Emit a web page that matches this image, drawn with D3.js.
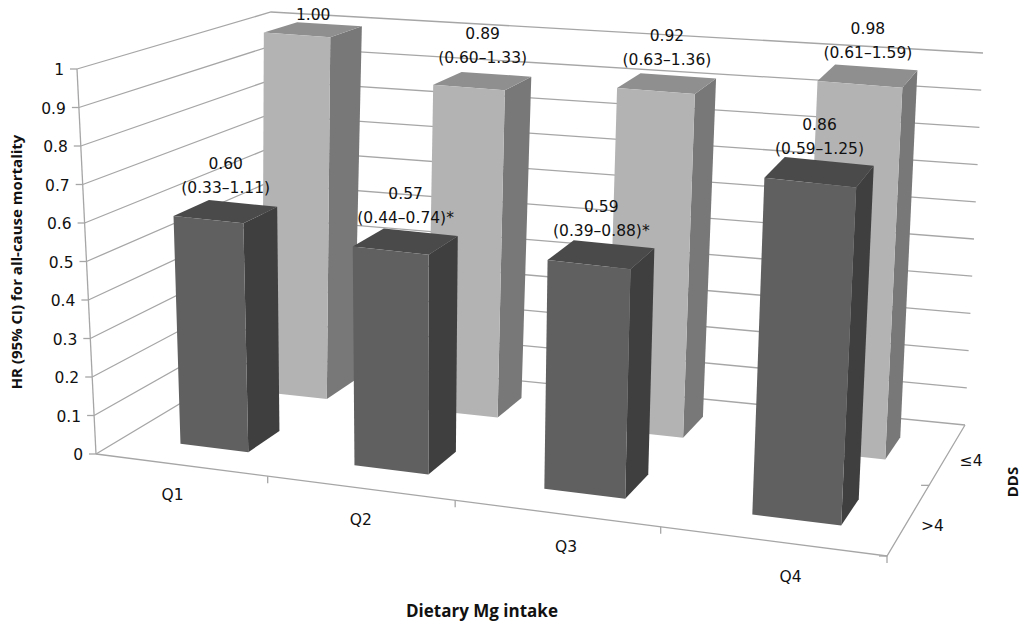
<!DOCTYPE html>
<html>
<head>
<meta charset="utf-8">
<script src="https://cdn.jsdelivr.net/npm/d3@7"></script>
<style>
  body { margin: 0; background: #fff; }
  text { font-family: "DejaVu Sans", sans-serif; fill: #111; }
  .ttl { font-family: "Open Sans", sans-serif; font-weight: bold; }
</style>
</head>
<body>
<svg id="chart" width="1024" height="627"></svg>
<script>
var quartiles = ["Q1", "Q2", "Q3", "Q4"];
var ddsRows = [">4", "\u22644"];
var hrHigh = [0.60, 0.57, 0.59, 0.86];   // DDS >4 (front row)
var hrLow = [1.00, 0.89, 0.92, 0.98];    // DDS <=4 (back row)
var ciHigh = ["(0.33\u20131.11)", "(0.44\u20130.74)*", "(0.39\u20130.88)*", "(0.59\u20131.25)"];
var ciLow = ["", "(0.60\u20131.33)", "(0.63\u20131.36)", "(0.61\u20131.59)"];
var valueTicks = [0, 0.1, 0.2, 0.3, 0.4, 0.5, 0.6, 0.7, 0.8, 0.9, 1];

var svg = d3.select("#chart");

// floor corners: front-left, front-right, back-right, back-left
var FL = [96, 454], FR = [887, 556], BR = [965, 425], BL = [261, 355];
// pixel height of value 1 and sideways lean at each corner
var hC = { fl: 385, fr: 398, br: 372, bl: 343 };
var lC = { fl: -19, fr: 20, br: 18, bl: 10 };

function homography(p0, p1, p2, p3) {
	var dx1 = p1[0] - p2[0], dx2 = p3[0] - p2[0], dx3 = p0[0] - p1[0] + p2[0] - p3[0];
	var dy1 = p1[1] - p2[1], dy2 = p3[1] - p2[1], dy3 = p0[1] - p1[1] + p2[1] - p3[1];
	var den = dx1 * dy2 - dx2 * dy1;
	var g = (dx3 * dy2 - dx2 * dy3) / den;
	var h = (dx1 * dy3 - dx3 * dy1) / den;
	var a = p1[0] - p0[0] + g * p1[0], b = p3[0] - p0[0] + h * p3[0], c = p0[0];
	var d = p1[1] - p0[1] + g * p1[1], e = p3[1] - p0[1] + h * p3[1], f = p0[1];
	return function(u, w) {
		var z = g * u + h * w + 1;
		return [(a * u + b * w + c) / z, (d * u + e * w + f) / z];
	};
}
var floor = homography(FL, FR, BR, BL);
function bil(o, u, w) {
	return (o.fl * (1 - u) + o.fr * u) * (1 - w) + (o.bl * (1 - u) + o.br * u) * w;
}

var x = d3.scaleBand().domain(quartiles).range([0, 1]);
var depth = d3.scalePoint().domain(ddsRows).range([0, 1]).padding(0.5);
var y = d3.scaleLinear().domain([0, 1]).range([0, 1]);

function P(u, w, v) {
	var f = floor(u, w), t = y(v);
	return [f[0] + bil(lC, u, w) * t, f[1] - bil(hC, u, w) * t];
}
function pts(a) { return a.map(function(p) { return p.join(","); }).join(" "); }
var grid = "#a6a6a6";

// back wall and left wall gridlines
valueTicks.forEach(function(v) {
	svg.append("polyline").attr("points", pts([P(0, 0, v), P(0, 1, v), P(1, 1, v)]))
		.attr("fill", "none").attr("stroke", grid).attr("stroke-width", 1.3);
});
// vertical axis line and ticks
svg.append("line").attr("x1", P(0, 0, 0)[0]).attr("y1", P(0, 0, 0)[1])
	.attr("x2", P(0, 0, 1)[0]).attr("y2", P(0, 0, 1)[1]).attr("stroke", grid).attr("stroke-width", 1.3);
valueTicks.forEach(function(v) {
	var p = P(0, 0, v);
	svg.append("line").attr("x1", p[0] - 7).attr("y1", p[1]).attr("x2", p[0]).attr("y2", p[1])
		.attr("stroke", grid).attr("stroke-width", 1.3);
	svg.append("text").attr("x", p[0] - 13).attr("y", p[1] + 6).attr("text-anchor", "end")
		.attr("font-size", 15.5).text(d3.format("")(v));
});
// floor front edge and right depth axis
svg.append("polyline").attr("points", pts([P(0, 0, 0), P(1, 0, 0), P(1, 1, 0)]))
	.attr("fill", "none").attr("stroke", grid).attr("stroke-width", 1.3);
[0.25, 0.5, 0.75, 1].forEach(function(u) {
	var p = P(u, 0, 0);
	svg.append("line").attr("x1", p[0]).attr("y1", p[1]).attr("x2", p[0]).attr("y2", p[1] + 7)
		.attr("stroke", grid).attr("stroke-width", 1.3);
});
[0, 0.5].forEach(function(w) {
	var p = P(1, w, 0);
	svg.append("line").attr("x1", p[0]).attr("y1", p[1]).attr("x2", p[0] - 8).attr("y2", p[1])
		.attr("stroke", grid).attr("stroke-width", 1.3);
});
quartiles.forEach(function(q) {
	var u = x(q) + x.bandwidth() / 2, p = P(u, 0, 0);
	svg.append("text").attr("x", p[0] - 12 + 36 * u).attr("y", p[1] + 34 + 8 * u).attr("text-anchor", "middle")
		.attr("font-size", 15.5).text(q);
});
ddsRows.forEach(function(r) {
	var p = P(1, depth(r), 0);
	svg.append("text").attr("x", p[0] + 12).attr("y", p[1] + 12).attr("font-size", 15.5).text(r);
});

// bars
var barU = 0.1, barW = 0.19;
var styles = [
	{ front: "#606060", side: "#3f3f3f", top: "#4a4a4a" },
	{ front: "#b3b3b3", side: "#787878", top: "#8f8f8f" }
];
function drawBar(q, row, v, st, l1, l2) {
	var uc = x(q) + x.bandwidth() / 2 + 0.01, wc = depth(row);
	var u0 = uc - barU / 2, u1 = uc + barU / 2, w0 = wc - barW / 2, w1 = wc + barW / 2;
	var g = svg.append("g");
	g.append("polygon").attr("points", pts([P(u1, w0, 0), P(u1, w1, 0), P(u1, w1, v), P(u1, w0, v)])).attr("fill", st.side);
	g.append("polygon").attr("points", pts([P(u0, w0, v), P(u1, w0, v), P(u1, w1, v), P(u0, w1, v)])).attr("fill", st.top);
	g.append("polygon").attr("points", pts([P(u0, w0, 0), P(u1, w0, 0), P(u1, w0, v), P(u0, w0, v)])).attr("fill", st.front);
	var t = P(uc, wc, v);
	if (l2) {
		g.append("text").attr("x", t[0]).attr("y", t[1] - 42).attr("text-anchor", "middle").attr("font-size", 15.5).text(l1);
		g.append("text").attr("x", t[0]).attr("y", t[1] - 18).attr("text-anchor", "middle").attr("font-size", 15.5).text(l2);
	} else {
		g.append("text").attr("x", t[0]).attr("y", Math.max(t[1] - 12, 20)).attr("text-anchor", "middle").attr("font-size", 15.5).text(l1);
	}
}
quartiles.forEach(function(q, i) {
	drawBar(q, ddsRows[1], hrLow[i], styles[1], d3.format(".2f")(hrLow[i]), ciLow[i]);
});
quartiles.forEach(function(q, i) {
	drawBar(q, ddsRows[0], hrHigh[i], styles[0], d3.format(".2f")(hrHigh[i]), ciHigh[i]);
});

// axis titles
svg.append("text").attr("class", "ttl").attr("transform", "translate(22,262) rotate(-90)")
	.attr("text-anchor", "middle").attr("font-size", 15).text("HR (95% CI) for all-cause mortality");
svg.append("text").attr("class", "ttl").attr("transform", "translate(1018,482) rotate(-90)")
	.attr("text-anchor", "middle").attr("font-size", 15).text("DDS");
svg.append("text").attr("class", "ttl").attr("x", 482).attr("y", 617)
	.attr("text-anchor", "middle").attr("font-size", 17).text("Dietary Mg intake");
</script>
</body>
</html>
